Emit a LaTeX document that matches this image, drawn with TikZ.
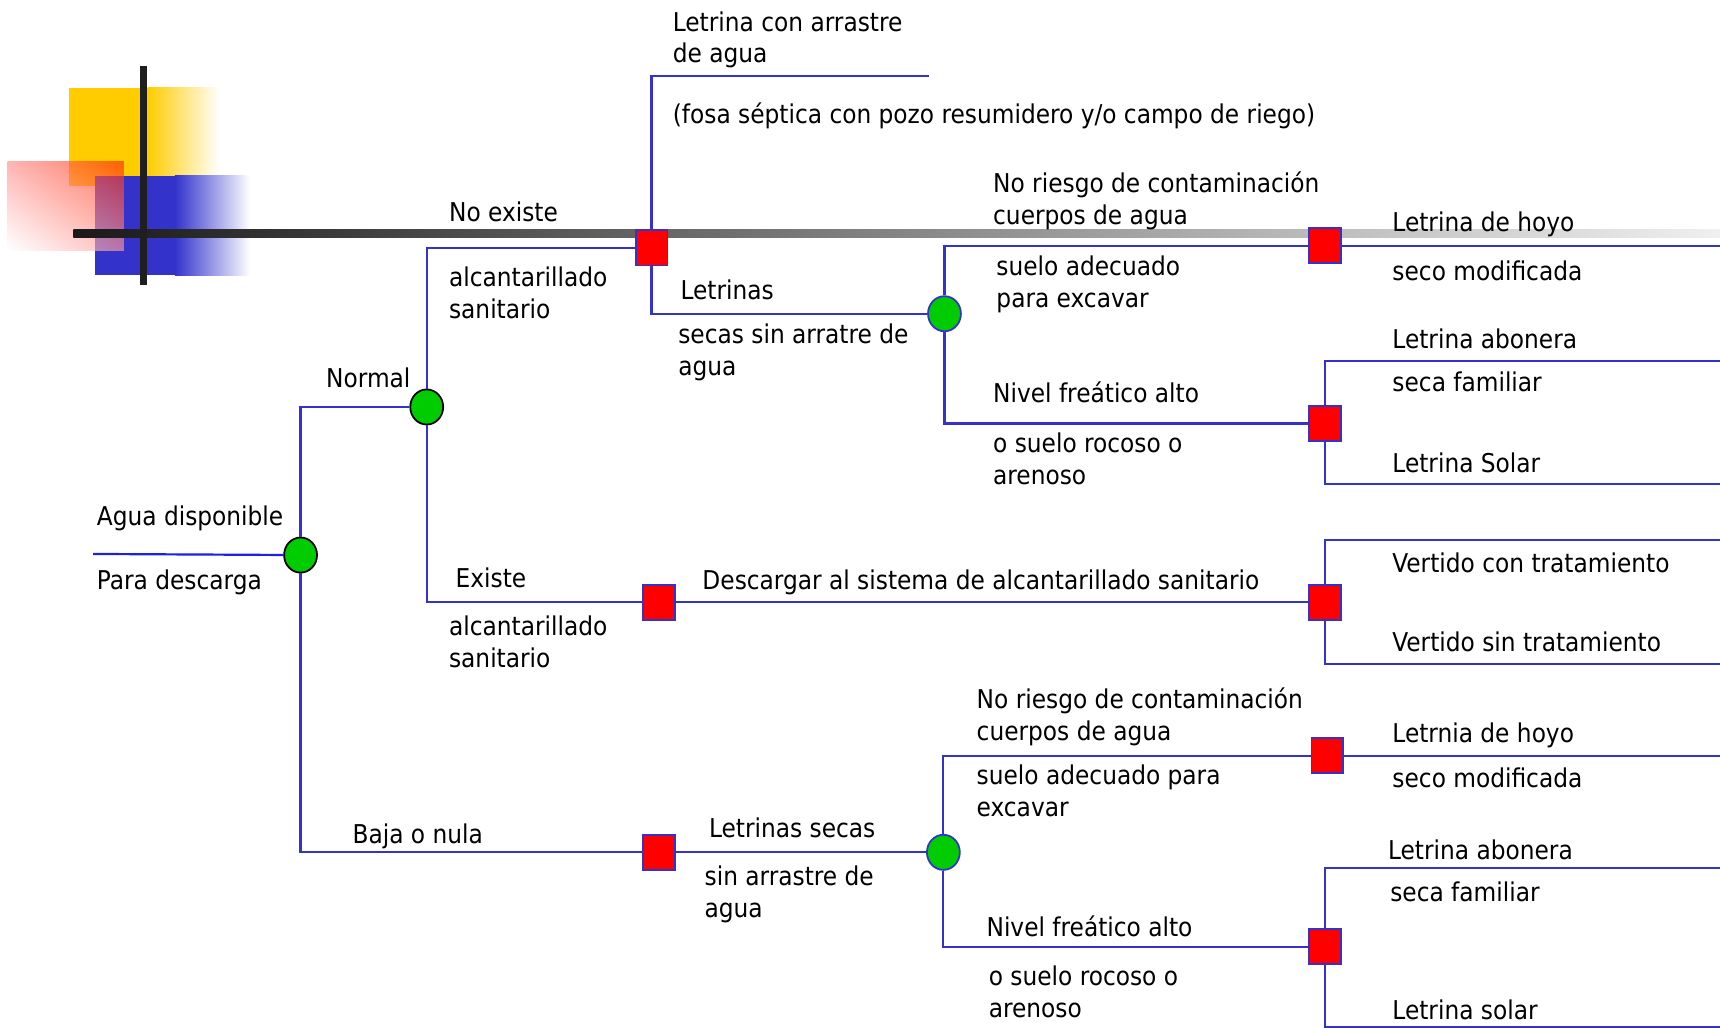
\documentclass[tikz,border=0pt]{standalone}
\usepackage{fontspec}
\setmainfont{DejaVu Sans Condensed}
\usetikzlibrary{shapes.geometric,shadings}
\definecolor{lineblue}{RGB}{51,51,204}
\definecolor{rootblue}{RGB}{30,30,230}
\definecolor{nodegreen}{RGB}{0,204,0}
\definecolor{nodered}{RGB}{255,0,0}
\definecolor{logoyellow}{RGB}{255,204,0}
\definecolor{logoblue}{RGB}{51,51,204}
\definecolor{logored}{RGB}{255,40,0}
\begin{document}
\begin{tikzpicture}[x=0.5pt,y=-0.5pt,
  lbl/.style={anchor=north west, inner sep=0pt, align=left,
    font=\fontsize{11.8}{14.5}\selectfont, execute at begin node=\strut},
  conn/.style={draw=lineblue, line width=1pt},
  chance/.style={ellipse, draw=black, line width=0.8pt, fill=nodegreen,
    minimum width=15pt, minimum height=16pt, inner sep=0pt},
  chanceb/.style={chance, draw=lineblue},
  decision/.style={rectangle, draw=lineblue, line width=0.8pt, fill=nodered,
    minimum width=14.5pt, minimum height=16pt, inner sep=0pt}]
\useasboundingbox (0,0) rectangle (1568,937);

% ---- logo ----
\fill[logoyellow] (63,80) rectangle (135,170);
\shade[left color=logoyellow, right color=white] (134.5,80) rectangle (200,170);
\fill[logoblue] (87,160) rectangle (160,251);
\shade[left color=logoblue, right color=white] (159.5,160) rectangle (228,251);
\shade[opacity=0.65, upper left=red!45, upper right=logored, lower left=white, lower right=red!40]
  (7,147) rectangle (113,228);
\shade[left color=black!90, right color=black!6] (67,209.5) rectangle (1568,216.5);
\fill[black!88] (128,60) rectangle (134,260);

% ---- nodes ----
\coordinate (r0) at (85,505);
\node[chance] (root) at (274,506) {};
\node[chance] (normal) at (389,371) {};
\node[decision] (sqNE) at (594,226) {};
\node[chanceb] (cL1) at (861,286) {};
\node[decision] (sqA) at (1208,224) {};
\node[decision] (sqB) at (1208,386) {};
\node[decision] (sqEx) at (601,549) {};
\node[decision] (sqV) at (1208,549) {};
\node[decision] (sqBaja) at (601,777) {};
\node[chanceb] (cL2) at (860,777) {};
\node[decision] (sqC) at (1210,689) {};
\node[decision] (sqD) at (1208,863) {};

\coordinate (eC1) at (847,69);
\coordinate (eA) at (1568,224);
\coordinate (eB1) at (1568,329);
\coordinate (eB2) at (1568,441);
\coordinate (eV1) at (1568,492);
\coordinate (eV2) at (1568,605);
\coordinate (eC) at (1568,689);
\coordinate (eD1) at (1568,791);
\coordinate (eD2) at (1568,936);

% ---- connectors ----
\draw[conn, draw=rootblue] (r0) -- (root);
\draw[conn] (root) |- (normal);
\draw[conn] (root) |- (sqBaja);
\draw[conn] (normal) |- (sqNE);
\draw[conn] (normal) |- (sqEx);
\draw[conn] (sqNE) |- (eC1);
\draw[conn] (sqNE) |- (cL1);
\draw[conn] (cL1) |- (sqA);
\draw[conn] (sqA) -- (eA);
\draw[conn] (cL1) |- (sqB);
\draw[conn] (sqB) |- (eB1);
\draw[conn] (sqB) |- (eB2);
\draw[conn] (sqEx) -- (sqV);
\draw[conn] (sqV) |- (eV1);
\draw[conn] (sqV) |- (eV2);
\draw[conn] (sqBaja) -- (cL2);
\draw[conn] (cL2) |- (sqC);
\draw[conn] (sqC) -- (eC);
\draw[conn] (cL2) |- (sqD);
\draw[conn] (sqD) |- (eD1);
\draw[conn] (sqD) |- (eD2);

% ---- labels ----
\node[lbl] (t1) at (613,10) {Letrina con arrastre\\de agua};
\node[lbl] (t2) at (613,92) {(fosa séptica con pozo resumidero y/o campo de riego)};
\node[lbl] (t3) at (905,156) {No riesgo de contaminación\\cuerpos de agua};
\node[lbl] (t4) at (409,181) {No existe};
\node[lbl] (t5) at (1269,190) {Letrina de hoyo};
\node[lbl] (t6) at (1269,235) {seco modificada};
\node[lbl] (t7) at (908,233) {suelo adecuado\\para excavar};
\node[lbl] (t8) at (409,243) {alcantarillado\\sanitario};
\node[lbl] (t9) at (620,252) {Letrinas};
\node[lbl] (t10) at (618,295) {secas sin arratre de\\agua};
\node[lbl] (t11) at (1269,297) {Letrina abonera};
\node[lbl] (t12) at (1269,336) {seca familiar};
\node[lbl] (t13) at (297,333) {Normal};
\node[lbl] (t14) at (905,346) {Nivel freático alto};
\node[lbl] (t15) at (905,394) {o suelo rocoso o\\arenoso};
\node[lbl] (t16) at (1269,410) {Letrina Solar};
\node[lbl] (t17) at (88,458) {Agua disponible};
\node[lbl] (t18) at (88,517) {Para descarga};
\node[lbl] (t19) at (1269,501) {Vertido con tratamiento};
\node[lbl] (t20) at (415,515) {Existe};
\node[lbl] (t21) at (640,517) {Descargar al sistema de alcantarillado sanitario};
\node[lbl] (t22) at (409,561) {alcantarillado\\sanitario};
\node[lbl] (t23) at (1269,573) {Vertido sin tratamiento};
\node[lbl] (t24) at (890,627) {No riesgo de contaminación\\cuerpos de agua};
\node[lbl] (t25) at (1269,656) {Letrnia de hoyo};
\node[lbl] (t26) at (890,697) {suelo adecuado para\\excavar};
\node[lbl] (t27) at (1269,697) {seco modificada};
\node[lbl] (t28) at (321,748) {Baja o nula};
\node[lbl] (t29) at (646,743) {Letrinas secas};
\node[lbl] (t30) at (1265,763) {Letrina abonera};
\node[lbl] (t31) at (642,789) {sin arrastre de\\agua};
\node[lbl] (t32) at (1267,801) {seca familiar};
\node[lbl] (t33) at (899,833) {Nivel freático alto};
\node[lbl] (t34) at (901,880) {o suelo rocoso o\\arenoso};
\node[lbl] (t35) at (1269,909) {Letrina solar};
\end{tikzpicture}
\end{document}
